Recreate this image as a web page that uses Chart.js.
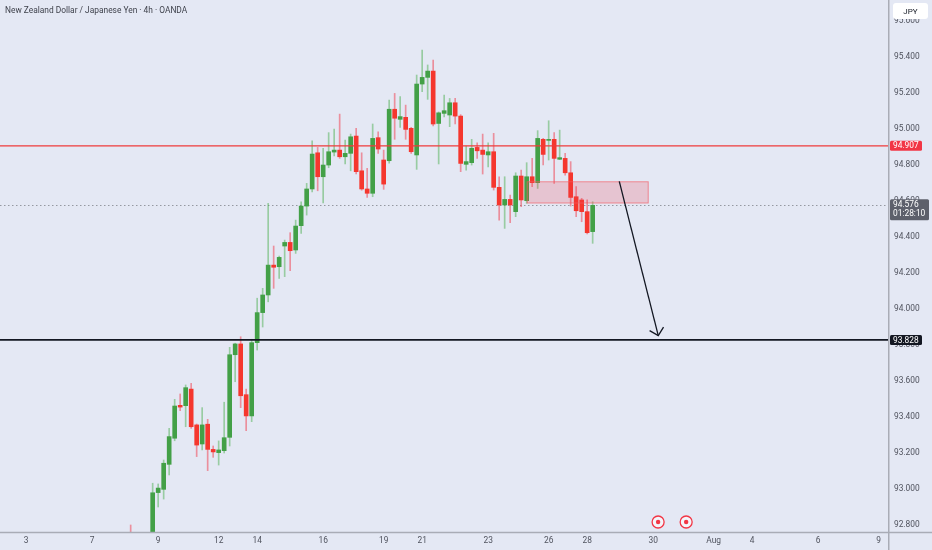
<!DOCTYPE html>
<html>
<head>
<meta charset="utf-8">
<script src="https://cdn.jsdelivr.net/npm/chart.js@4.4.1/dist/chart.umd.min.js"></script>
<style>
  html, body { margin: 0; padding: 0; background: #e4e8f4; }
  #wrap { width: 932px; height: 550px; }
</style>
</head>
<body>
<div id="wrap"><canvas id="chart" width="932" height="550"></canvas></div>
<script>
// NZDJPY 4h candles, bar index of the first entry (0 = bar just before the "9" label)
const firstBar = -4;

const opens = [
  92.72, 92.62, 92.68, 92.64, 92.70, 92.98, 92.998, 93.137, 93.282, 93.465,
  93.463, 93.555, 93.356, 93.25, 93.36, 93.22, 93.202, 93.213, 93.287, 93.746,
  93.806, 93.524, 93.406, 93.813, 93.98, 94.078, 94.244, 94.235, 94.35, 94.37,
  94.328, 94.463, 94.572, 94.667, 94.868, 94.735, 94.80, 94.872, 94.883, 94.846,
  94.865, 94.961, 94.768, 94.667, 94.643, 94.952, 94.828, 94.824, 95.11, 95.054,
  95.065, 95.004, 94.856, 95.25, 95.287, 95.322, 95.031, 95.087, 95.078, 95.146,
  95.072, 94.804, 94.813, 94.898, 94.883, 94.856, 94.874, 94.676, 94.578, 94.609,
  94.541, 94.739, 94.602, 94.735, 94.702, 94.943, 94.937, 94.943, 94.832, 94.837,
  94.757, 94.624, 94.606, 94.541, 94.43
];
const highs = [
  92.80, 92.72, 92.74, 92.74, 93.032, 93.028, 93.161, 93.337, 93.498, 93.528,
  93.578, 93.587, 93.361, 93.452, 93.387, 93.239, 93.267, 93.482, 93.787, 93.81,
  93.846, 93.555, 93.832, 94.06, 94.115, 94.587, 94.35, 94.294, 94.383, 94.424,
  94.494, 94.596, 94.698, 94.935, 94.898, 94.893, 94.98, 95.0, 95.083, 94.939,
  94.972, 95.004, 94.868, 94.781, 95.028, 94.985, 94.883, 95.161, 95.198, 95.18,
  95.133, 95.01, 95.30, 95.439, 95.356, 95.383, 95.095, 95.189, 95.17, 95.17,
  95.08, 94.906, 94.943, 94.924, 94.972, 94.924, 94.976, 94.735, 94.735, 94.633,
  94.757, 94.772, 94.813, 94.837, 94.991, 94.948, 95.046, 94.98, 94.994, 94.865,
  94.819, 94.68, 94.615, 94.606, 94.596
];
const lows = [
  92.58, 92.57, 92.60, 92.61, 92.68, 92.90, 92.944, 93.078, 93.268, 93.435,
  93.346, 93.337, 93.18, 93.217, 93.102, 93.176, 93.133, 93.20, 93.239, 93.596,
  93.452, 93.324, 93.374, 93.772, 93.90, 94.04, 94.115, 94.17, 94.18, 94.213,
  94.309, 94.42, 94.522, 94.65, 94.657, 94.59, 94.785, 94.85, 94.837, 94.806,
  94.768, 94.75, 94.66, 94.62, 94.624, 94.865, 94.665, 94.81, 94.943, 95.009,
  94.943, 94.865, 94.776, 95.207, 95.165, 95.017, 94.806, 95.068, 95.013, 95.028,
  94.763, 94.772, 94.80, 94.837, 94.75, 94.79, 94.661, 94.494, 94.448, 94.48,
  94.513, 94.568, 94.587, 94.68, 94.67, 94.80, 94.828, 94.698, 94.83, 94.744,
  94.572, 94.513, 94.485, 94.417, 94.365
];
const closes = [
  92.62, 92.68, 92.64, 92.70, 92.979, 93.005, 93.143, 93.291, 93.461, 93.455,
  93.563, 93.346, 93.244, 93.356, 93.22, 93.206, 93.217, 93.285, 93.746, 93.806,
  93.518, 93.406, 93.813, 93.98, 94.078, 94.244, 94.232, 94.287, 94.37, 94.324,
  94.461, 94.572, 94.667, 94.861, 94.735, 94.80, 94.874, 94.883, 94.846, 94.865,
  94.957, 94.763, 94.667, 94.643, 94.948, 94.889, 94.694, 95.11, 95.06, 95.069,
  94.998, 94.874, 95.25, 95.287, 95.322, 95.028, 95.09, 95.102, 95.146, 95.072,
  94.809, 94.819, 94.893, 94.879, 94.859, 94.874, 94.676, 94.578, 94.609, 94.578,
  94.739, 94.606, 94.735, 94.702, 94.948, 94.859, 94.94, 94.837, 94.841, 94.757,
  94.62, 94.546, 94.541, 94.424, 94.576
];

// time axis labels (bar index -> text)
const dayTickBars = [-23, -11, 1, 12, 19, 31, 42, 49, 61, 72, 79, 91, 102, 109, 121, 132];
const dayTickLabels = ['3', '7', '9', '12', '14', '16', '19', '21', '23', '26', '28', '30', 'Aug', '4', '6', '9'];
const priceTicks = [92.8, 93.0, 93.2, 93.4, 93.6, 93.8, 94.0, 94.2, 94.4, 94.6, 94.8, 95.0, 95.2, 95.4, 95.6];

// drawings
const resistance = 94.907;
const support = 93.828;
const lastPrice = 94.576;
const countdown = '01:28:10';
const zoneBars = [68.1, 90.1];
const zonePrices = [94.589, 94.707];
const arrowFrom = [84.84, 94.709];
const arrowTo = [91.93, 93.852];
const eventBars = [91.9, 97.0];

const UP = '#43a047', DOWN = '#f5372e';
const UP_WICK = 'rgba(76,175,80,0.5)', DOWN_WICK = 'rgba(242,54,69,0.5)';
const FONT = 'Roboto, "Liberation Sans", sans-serif';

const idx = opens.map((o, i) => firstBar + i);
const isUp = opens.map((o, i) => closes[i] >= o);

function box(c, x, y, w, h, color) {
  c.fillStyle = color;
  c.beginPath();
  c.roundRect(x, y, w, h, 1.5);
  c.fill();
}

const overlay = {
  id: 'overlay',
  beforeDraw(chart) {
    const c = chart.ctx;
    c.save();
    c.fillStyle = '#e4e8f4';
    c.fillRect(0, 0, chart.width, chart.height);
    c.restore();
  },
  beforeDatasetsDraw(chart) {
    const c = chart.ctx, a = chart.chartArea, y = chart.scales.y;
    c.save();
    c.strokeStyle = '#9598a1';
    c.lineWidth = 1;
    c.setLineDash([1.5, 2.5]);
    const py = Math.round(y.getPixelForValue(lastPrice)) + 0.5;
    c.beginPath();
    c.moveTo(a.left, py);
    c.lineTo(a.right, py);
    c.stroke();
    c.restore();
  },
  afterDatasetsDraw(chart) {
    const c = chart.ctx, a = chart.chartArea, x = chart.scales.x, y = chart.scales.y;
    c.save();
    c.beginPath();
    c.rect(a.left, a.top, a.right - a.left, a.bottom - a.top);
    c.clip();

    // supply zone
    const zx1 = x.getPixelForValue(zoneBars[0]), zx2 = x.getPixelForValue(zoneBars[1]);
    const zy1 = y.getPixelForValue(zonePrices[1]), zy2 = y.getPixelForValue(zonePrices[0]);
    c.fillStyle = 'rgba(242,54,69,0.2)';
    c.fillRect(zx1, zy1, zx2 - zx1, zy2 - zy1);
    c.strokeStyle = 'rgba(242,90,100,0.65)';
    c.lineWidth = 1;
    c.strokeRect(zx1, zy1, zx2 - zx1, zy2 - zy1);

    // horizontal levels
    const ry = y.getPixelForValue(resistance);
    c.strokeStyle = '#ef3b3b';
    c.lineWidth = 1.3;
    c.beginPath(); c.moveTo(a.left, ry); c.lineTo(a.right, ry); c.stroke();
    const sy = y.getPixelForValue(support);
    c.strokeStyle = '#131722';
    c.lineWidth = 1.8;
    c.beginPath(); c.moveTo(a.left, sy); c.lineTo(a.right, sy); c.stroke();

    // arrow
    const ax1 = x.getPixelForValue(arrowFrom[0]), ay1 = y.getPixelForValue(arrowFrom[1]);
    const ax2 = x.getPixelForValue(arrowTo[0]), ay2 = y.getPixelForValue(arrowTo[1]);
    c.strokeStyle = '#131722';
    c.lineWidth = 1.3;
    c.beginPath(); c.moveTo(ax1, ay1); c.lineTo(ax2, ay2); c.stroke();
    const ang = Math.atan2(ay1 - ay2, ax1 - ax2);
    const head = 10, spread = 0.8;
    c.beginPath();
    c.moveTo(ax2 + head * Math.cos(ang - spread), ay2 + head * Math.sin(ang - spread));
    c.lineTo(ax2, ay2);
    c.lineTo(ax2 + head * Math.cos(ang + spread), ay2 + head * Math.sin(ang + spread));
    c.stroke();

    // economic event markers
    eventBars.forEach(b => {
      const ex = x.getPixelForValue(b), ey = a.bottom - 10;
      c.fillStyle = '#f4f5fa';
      c.strokeStyle = '#f23645';
      c.lineWidth = 1.3;
      c.beginPath(); c.arc(ex, ey, 6, 0, Math.PI * 2); c.fill(); c.stroke();
      c.fillStyle = '#f23645';
      c.beginPath(); c.arc(ex, ey, 2.2, 0, Math.PI * 2); c.fill();
    });
    c.restore();
  },
  afterDraw(chart) {
    const c = chart.ctx, a = chart.chartArea, y = chart.scales.y;
    c.save();
    // axis separators
    c.strokeStyle = '#a9acb6';
    c.lineWidth = 1.5;
    c.beginPath();
    c.moveTo(0, a.bottom + 0.5); c.lineTo(chart.width, a.bottom + 0.5);
    c.moveTo(a.right + 0.75, 0); c.lineTo(a.right + 0.75, chart.height);
    c.stroke();

    // title
    c.fillStyle = '#3f424c';
    c.font = '8.4px ' + FONT;
    c.textBaseline = 'middle';
    c.textAlign = 'left';
    c.fillText('New Zealand Dollar / Japanese Yen \u00b7 4h \u00b7 OANDA', 5, 11);

    // currency button
    c.fillStyle = '#ffffff';
    c.beginPath(); c.roundRect(893, 3, 35, 16, 3); c.fill();
    c.fillStyle = '#131722';
    c.textAlign = 'center';
    c.font = '8px ' + FONT;
    c.fillText('JPY', 910.5, 11.5);

    // price labels on the axis
    c.textAlign = 'left';
    c.font = '8.4px ' + FONT;
    const ly = y.getPixelForValue(lastPrice);
    box(c, a.right + 2, ly - 6, 39, 21, '#5d606b');
    c.fillStyle = '#ffffff';
    c.fillText(lastPrice.toFixed(3), a.right + 5, ly);
    c.fillText(countdown, a.right + 5, ly + 9);

    const ry = y.getPixelForValue(resistance);
    box(c, a.right + 2, ry - 5, 32, 10, '#f23645');
    c.fillStyle = '#ffffff';
    c.fillText(resistance.toFixed(3), a.right + 5, ry + 0.5);

    const sy = y.getPixelForValue(support);
    box(c, a.right + 2, sy - 5, 32, 10, '#131722');
    c.fillStyle = '#ffffff';
    c.fillText(support.toFixed(3), a.right + 5, sy + 0.5);
    c.restore();
  }
};

new Chart(document.getElementById('chart'), {
  type: 'bar',
  data: {
    datasets: [
      {
        label: 'wicks',
        data: idx.map((b, i) => ({ x: b, y: [lows[i], highs[i]] })),
        backgroundColor: isUp.map(u => u ? UP_WICK : DOWN_WICK),
        barThickness: 1,
        grouped: false,
        order: 2
      },
      {
        label: 'bodies',
        data: idx.map((b, i) => ({ x: b, y: [opens[i], closes[i]] })),
        backgroundColor: isUp.map(u => u ? UP : DOWN),
        barThickness: 4,
        minBarLength: 1,
        grouped: false,
        order: 1
      }
    ]
  },
  options: {
    responsive: false,
    animation: false,
    devicePixelRatio: 1,
    layout: { padding: 0 },
    plugins: { legend: { display: false }, tooltip: { enabled: false } },
    scales: {
      x: {
        type: 'linear',
        min: -27.76,
        max: 133.7,
        offset: false,
        grid: { display: false, drawTicks: false },
        border: { display: false },
        afterBuildTicks: s => { s.ticks = dayTickBars.map(v => ({ value: v })); },
        afterFit: s => { s.height = 18; s.paddingLeft = 0; s.paddingRight = 0; },
        ticks: {
          autoSkip: false,
          maxRotation: 0,
          padding: 4,
          color: '#50535e',
          font: { family: FONT, size: 8.4 },
          callback: v => dayTickLabels[dayTickBars.indexOf(v)]
        }
      },
      y: {
        position: 'right',
        min: 92.761,
        max: 95.717,
        grid: { display: false, drawTicks: false },
        border: { display: false },
        afterBuildTicks: s => { s.ticks = priceTicks.map(v => ({ value: v })); },
        afterFit: s => { s.width = 44; s.paddingTop = 0; s.paddingBottom = 0; },
        ticks: {
          padding: 6,
          color: '#50535e',
          font: { family: FONT, size: 8.4 },
          callback: v => v.toFixed(3)
        }
      }
    }
  },
  plugins: [overlay]
});
</script>
</body>
</html>
